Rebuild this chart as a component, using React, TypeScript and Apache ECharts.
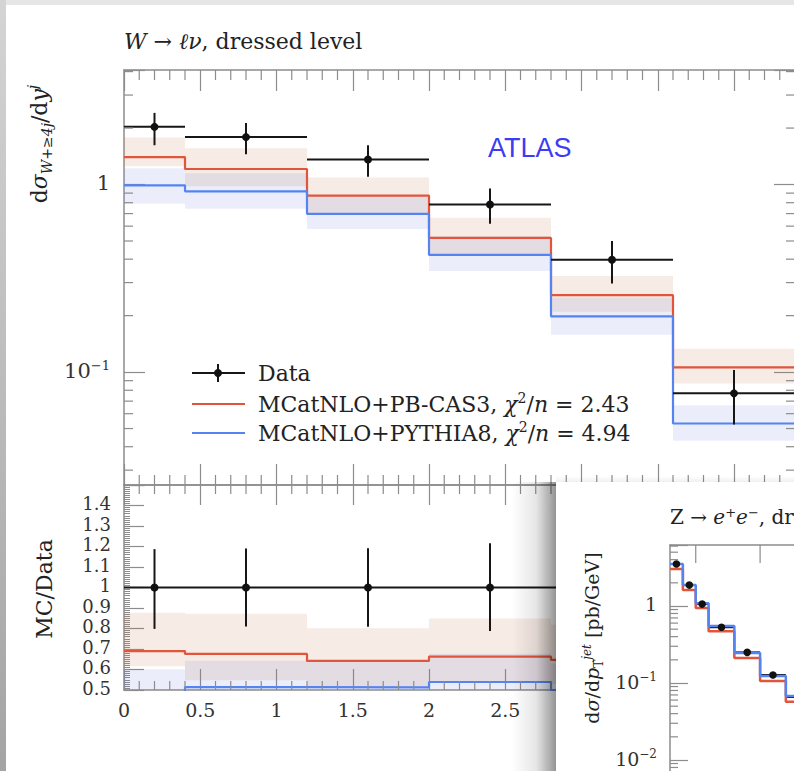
import React, { useEffect, useRef } from 'react';
import * as echarts from 'echarts';

// ---------------- data (main panel: W -> l nu, d sigma / d y^j) ----------------
const BIN_EDGES = [0, 0.4, 1.2, 2.0, 2.8, 3.6, 4.4];
const DATA_VAL = [2.03, 1.79, 1.36, 0.783, 0.397, 0.077];
const DATA_LO = [1.62, 1.45, 1.10, 0.617, 0.297, 0.0525];
const DATA_HI = [2.41, 2.13, 1.62, 0.952, 0.50, 0.1025];
const PB_VAL = [1.40, 1.21, 0.873, 0.519, 0.257, 0.106];
const PB_LO = [1.25, 0.98, 0.70, 0.42, 0.21, 0.087];
const PB_HI = [1.78, 1.56, 1.09, 0.665, 0.325, 0.133];
const PY_VAL = [0.99, 0.92, 0.698, 0.422, 0.198, 0.0532];
const PY_LO = [0.79, 0.743, 0.58, 0.346, 0.158, 0.043];
const PY_HI = [1.22, 1.15, 0.87, 0.53, 0.25, 0.0665];

// ---------------- data (overlay panel: Z -> ee, d sigma / d pT) ----------------
const Z_EDGES = [30, 40, 50, 60, 80, 100, 120, 150];
const Z_DATA = [3.51, 1.87, 1.06, 0.53, 0.25, 0.127, 0.066];
const Z_PY = [3.51, 1.87, 1.09, 0.55, 0.245, 0.123, 0.068];
const Z_PB = [3.02, 1.61, 0.94, 0.47, 0.211, 0.106, 0.057];

// ---------------- axes / ticks ----------------
const X_MIN = 0, X_MAX = 4.4;
const Y_MIN = 0.025, Y_MAX = 4.08;
const R_MIN = 0.5, R_MAX = 1.5;
const ZX_MIN = 30, ZX_MAX = 340;
const ZY_MIN = 0.001, ZY_MAX = 6.2;
const X_MINOR_TICKS: number[] = [];
for (let k = 1; k < 44; k++) if (k % 5 !== 0) X_MINOR_TICKS.push(+(k / 10).toFixed(1));
const LOG_MINOR_MAIN = [0.03, 0.04, 0.05, 0.06, 0.07, 0.08, 0.09, 0.2, 0.3, 0.4, 0.5, 0.6, 0.7, 0.8, 0.9, 2, 3, 4];
const Z_X_TICKS = [50, 100, 150, 200, 250, 300];
const Z_LOG_MINOR = [0.002, 0.003, 0.004, 0.005, 0.006, 0.007, 0.008, 0.009, 0.02, 0.03, 0.04, 0.05, 0.06, 0.07, 0.08, 0.09, 0.2, 0.3, 0.4, 0.5, 0.6, 0.7, 0.8, 0.9, 2, 3, 4, 5, 6];

// ratio table built from the arrays above
const R_DATA_VAL = DATA_VAL.map(() => 1);
const R_DATA_LO = DATA_LO.map((v, i) => v / DATA_VAL[i]);
const R_DATA_HI = DATA_HI.map((v, i) => v / DATA_VAL[i]);
const R_PB_VAL = PB_VAL.map((v, i) => v / DATA_VAL[i]);
const R_PB_LO = PB_LO.map((v, i) => v / DATA_VAL[i]);
const R_PB_HI = PB_HI.map((v, i) => v / DATA_VAL[i]);
const R_PY_VAL = PY_VAL.map((v, i) => v / DATA_VAL[i]);
const R_PY_LO = PY_LO.map((v, i) => v / DATA_VAL[i]);
const R_PY_HI = PY_HI.map((v, i) => v / DATA_VAL[i]);

// ---------------- styles ----------------
const FRAME = '#8c8c8c';
const RED = '#e0553c';
const BLUE = '#5584f0';
const RED_BAND = 'rgba(200,110,70,0.14)';
const BLUE_BAND = 'rgba(100,120,220,0.13)';
const INK = '#222222';
const SERIF = 'DejaVu Serif';

function richSet(size: number, colorKey: 'fill' | 'color' = 'fill', color = INK) {
  const small = Math.round(size * 0.64);
  const base = (extra: any) => ({ fontFamily: SERIF, [colorKey]: color, verticalAlign: 'bottom', ...extra });
  return {
    r: base({ fontSize: size, padding: [0, 0, Math.round(size * 0.2), 0] }),
    i: base({ fontSize: size, fontStyle: 'italic', padding: [0, 0, Math.round(size * 0.2), 0] }),
    sup: base({ fontSize: small, padding: [0, 0, Math.round(size * 0.62), 0] }),
    supi: base({ fontSize: small, fontStyle: 'italic', padding: [0, 0, Math.round(size * 0.62), 0] }),
    sub: base({ fontSize: small, fontStyle: 'italic', padding: [0, 0, 0, 0] }),
    subr: base({ fontSize: small, padding: [0, 0, 0, 0] }),
  };
}

function logLabel(minShown: number) {
  return (v: number) => {
    if (v < minShown) return '';
    const l = Math.log10(v);
    const r = Math.round(l);
    if (Math.abs(l - r) > 1e-6) return '';
    if (r === 0) return '{r|1}';
    return `{r|10}{sup|−${-r}}`;
  };
}

// ---------------- series builders ----------------
function bandSeries(xi: number, yi: number, edges: number[], lo: number[], hi: number[], color: string, z: number) {
  return {
    type: 'custom', xAxisIndex: xi, yAxisIndex: yi, z, silent: true,
    encode: { x: [0, 1], y: [2, 3] },
    data: lo.map((l, i) => [edges[i], edges[i + 1], l, hi[i]]),
    renderItem: (params: any, api: any) => {
      const a = api.coord([api.value(0), api.value(3)]);
      const b = api.coord([api.value(1), api.value(2)]);
      const cs = params.coordSys;
      const top = Math.max(Math.min(a[1], b[1]), cs.y);
      const bot = Math.min(Math.max(a[1], b[1]), cs.y + cs.height);
      if (!(bot > top)) return null;
      return { type: 'rect', shape: { x: a[0], y: top, width: b[0] - a[0], height: bot - top }, style: { fill: color } };
    },
  };
}

function stepSeries(xi: number, yi: number, edges: number[], vals: number[], color: string, width: number, z: number) {
  return {
    type: 'line', xAxisIndex: xi, yAxisIndex: yi, z, silent: true, step: 'end', symbol: 'none', clip: true,
    lineStyle: { color, width }, animation: false,
    data: edges.map((e, i) => [e, vals[Math.min(i, vals.length - 1)]]),
  };
}

function pointSeries(xi: number, yi: number, edges: number[], vals: number[], lo: number[], hi: number[], z: number,
  opt: { hLine: boolean; vLine: boolean; dot: boolean; r: number; width: number }) {
  return {
    type: 'custom', xAxisIndex: xi, yAxisIndex: yi, z, silent: true,
    encode: { x: [0, 1], y: [2, 3, 4] },
    data: vals.map((v, i) => [edges[i], edges[i + 1], v, lo[i], hi[i]]),
    renderItem: (params: any, api: any) => {
      const x0 = api.value(0), x1 = api.value(1), v = api.value(2), l = api.value(3), h = api.value(4);
      const xc = (x0 + x1) / 2;
      const a = api.coord([x0, v]), b = api.coord([x1, v]), c = api.coord([xc, v]);
      const t = api.coord([xc, h]), d = api.coord([xc, l]);
      const children: any[] = [];
      const st = { stroke: '#161616', lineWidth: opt.width };
      if (opt.hLine) children.push({ type: 'line', shape: { x1: a[0], y1: a[1], x2: b[0], y2: b[1] }, style: st });
      if (opt.vLine) children.push({ type: 'line', shape: { x1: t[0], y1: t[1], x2: d[0], y2: d[1] }, style: st });
      if (opt.dot) children.push({ type: 'circle', shape: { cx: c[0], cy: c[1], r: opt.r }, style: { fill: '#111' } });
      return { type: 'group', children };
    },
  };
}

function xTickSeries(xi: number, yi: number, ticks: number[], yRef: number, len: number, top: boolean, bottom: boolean, z: number) {
  return {
    type: 'custom', xAxisIndex: xi, yAxisIndex: yi, z, silent: true,
    data: ticks.map((t) => [t, yRef]),
    renderItem: (params: any, api: any) => {
      const p = api.coord([api.value(0), api.value(1)]);
      const cs = params.coordSys;
      const st = { stroke: FRAME, lineWidth: 1.2 };
      const ch: any[] = [];
      if (top) ch.push({ type: 'line', shape: { x1: p[0], y1: cs.y, x2: p[0], y2: cs.y + len }, style: st });
      if (bottom) ch.push({ type: 'line', shape: { x1: p[0], y1: cs.y + cs.height, x2: p[0], y2: cs.y + cs.height - len }, style: st });
      return { type: 'group', children: ch };
    },
  };
}

function yTickSeries(xi: number, yi: number, ticks: number[], xRef: number, len: number, left: boolean, right: boolean, z: number) {
  return {
    type: 'custom', xAxisIndex: xi, yAxisIndex: yi, z, silent: true,
    data: ticks.map((t) => [xRef, t]),
    renderItem: (params: any, api: any) => {
      const p = api.coord([api.value(0), api.value(1)]);
      const cs = params.coordSys;
      const st = { stroke: FRAME, lineWidth: 1.2 };
      const ch: any[] = [];
      if (left) ch.push({ type: 'line', shape: { x1: cs.x, y1: p[1], x2: cs.x + len, y2: p[1] }, style: st });
      if (right) ch.push({ type: 'line', shape: { x1: cs.x + cs.width, y1: p[1], x2: cs.x + cs.width - len, y2: p[1] }, style: st });
      return { type: 'group', children: ch };
    },
  };
}

const frameLine = { show: true, onZero: false, lineStyle: { color: FRAME, width: 1.5 } };
const tickStyle = { color: FRAME, width: 1.2 };

function buildOption() {
  const R22 = richSet(22);
  const R20 = richSet(20);
  const axisRich = (size: number) => richSet(size, 'color', '#333');

  const graphicEls: any[] = [
    // page edge shadows
    { type: 'rect', z: 1, silent: true, shape: { x: 0, y: 0, width: 794, height: 5 }, style: { fill: '#e6e6e6' } },
    {
      type: 'rect', z: 1, silent: true, shape: { x: 0, y: 0, width: 6, height: 771 },
      style: { fill: new echarts.graphic.LinearGradient(0, 0, 0, 1, [{ offset: 0, color: '#d4d4d4' }, { offset: 1, color: '#a4a4a4' }]) },
    },
    // title
    { type: 'text', z: 5, x: 124, y: 43, style: { text: '{i|W}{r| → }{i|ℓν}{r|, dressed level}', rich: R22, align: 'left', verticalAlign: 'middle' } },
    // y labels
    {
      type: 'text', z: 5, x: 40, y: 144, rotation: Math.PI / 2,
      style: { text: '{r|d}{i|σ}{sub|W+≥4j}{r|/d}{i|y}{supi|j}', rich: R22, align: 'center', verticalAlign: 'middle' },
    },
    {
      type: 'text', z: 5, x: 46, y: 589, rotation: Math.PI / 2,
      style: { text: '{r|MC/Data}', rich: R22, align: 'center', verticalAlign: 'middle' },
    },
    // ATLAS
    { type: 'text', z: 5, x: 488, y: 148, style: { text: 'ATLAS', fill: '#3c3cf4', fontFamily: 'Liberation Sans', fontSize: 27, verticalAlign: 'middle' } },
    // legend
    { type: 'line', z: 5, shape: { x1: 192, y1: 373, x2: 245, y2: 373 }, style: { stroke: '#161616', lineWidth: 2 } },
    { type: 'line', z: 5, shape: { x1: 218, y1: 364, x2: 218, y2: 382 }, style: { stroke: '#161616', lineWidth: 2 } },
    { type: 'circle', z: 5, shape: { cx: 218, cy: 373, r: 4 }, style: { fill: '#111' } },
    { type: 'line', z: 5, shape: { x1: 192, y1: 404, x2: 245, y2: 404 }, style: { stroke: RED, lineWidth: 2.2 } },
    { type: 'line', z: 5, shape: { x1: 192, y1: 433, x2: 245, y2: 433 }, style: { stroke: BLUE, lineWidth: 2.2 } },
    { type: 'text', z: 5, x: 258, y: 375, style: { text: '{r|Data}', rich: R22, verticalAlign: 'middle' } },
    { type: 'text', z: 5, x: 258, y: 405, style: { text: '{r|MCatNLO+PB-CAS3, }{i|χ}{sup|2}{r|/}{i|n}{r| = 2.43}', rich: R22, verticalAlign: 'middle' } },
    { type: 'text', z: 5, x: 258, y: 434, style: { text: '{r|MCatNLO+PYTHIA8, }{i|χ}{sup|2}{r|/}{i|n}{r| = 4.94}', rich: R22, verticalAlign: 'middle' } },
    // overlay card (second figure)
    {
      type: 'rect', z: 50, silent: true, shape: { x: 512, y: 482, width: 44, height: 289 },
      style: {
        fill: new echarts.graphic.LinearGradient(0, 0, 1, 0, [
          { offset: 0, color: 'rgba(0,0,0,0)' }, { offset: 0.55, color: 'rgba(0,0,0,0.1)' }, { offset: 1, color: 'rgba(0,0,0,0.42)' },
        ]),
      },
    },
    {
      type: 'rect', z: 50, silent: true, shape: { x: 556, y: 476, width: 238, height: 6 },
      style: { fill: new echarts.graphic.LinearGradient(0, 0, 0, 1, [{ offset: 0, color: 'rgba(0,0,0,0)' }, { offset: 1, color: 'rgba(0,0,0,0.06)' }]) },
    },
    { type: 'rect', z: 51, silent: true, shape: { x: 556, y: 482, width: 238, height: 289 }, style: { fill: '#ffffff' } },
    { type: 'text', z: 60, x: 670, y: 518, style: { text: '{r|Z → }{i|e}{sup|+}{i|e}{sup|−}{r|, dressed level}', rich: R20, verticalAlign: 'middle' } },
    {
      type: 'text', z: 60, x: 593, y: 638, rotation: Math.PI / 2,
      style: { text: '{r|d}{i|σ}{r|/d}{i|p}{subr|T}{supi|jet}{r| [pb/GeV]}', rich: richSet(19), align: 'center', verticalAlign: 'middle' },
    },
  ];

  const series: any[] = [
    // main panel
    bandSeries(0, 0, BIN_EDGES, PB_LO, PB_HI, RED_BAND, 2),
    bandSeries(0, 0, BIN_EDGES, PY_LO, PY_HI, BLUE_BAND, 2),
    stepSeries(0, 0, BIN_EDGES, PB_VAL, RED, 2.2, 3),
    stepSeries(0, 0, BIN_EDGES, PY_VAL, BLUE, 2.2, 3),
    pointSeries(0, 0, BIN_EDGES, DATA_VAL, DATA_LO, DATA_HI, 4, { hLine: true, vLine: true, dot: true, r: 4, width: 2 }),
    xTickSeries(0, 0, X_MINOR_TICKS, 1, 10, true, true, 4),
    yTickSeries(0, 0, LOG_MINOR_MAIN, 1, 9, true, true, 4),
    // ratio panel
    bandSeries(2, 2, BIN_EDGES, R_PB_LO, R_PB_HI, RED_BAND, 2),
    bandSeries(2, 2, BIN_EDGES, R_PY_LO, R_PY_HI, BLUE_BAND, 2),
    stepSeries(2, 2, BIN_EDGES, R_PB_VAL, RED, 2.2, 3),
    stepSeries(2, 2, BIN_EDGES, R_PY_VAL, BLUE, 2.2, 3),
    pointSeries(2, 2, BIN_EDGES, R_DATA_VAL, R_DATA_LO, R_DATA_HI, 4, { hLine: true, vLine: true, dot: true, r: 4, width: 2 }),
    xTickSeries(2, 2, X_MINOR_TICKS, 1, 9, true, true, 4),
    // overlay Z panel
    pointSeries(4, 3, Z_EDGES, Z_DATA, Z_DATA, Z_DATA, 61, { hLine: true, vLine: false, dot: false, r: 3.5, width: 2 }),
    stepSeries(4, 3, Z_EDGES, Z_PB, RED, 2.5, 62),
    stepSeries(4, 3, Z_EDGES, Z_PY, BLUE, 2.5, 63),
    pointSeries(4, 3, Z_EDGES, Z_DATA, Z_DATA, Z_DATA, 64, { hLine: false, vLine: false, dot: true, r: 3.8, width: 2 }),
    xTickSeries(4, 3, Z_X_TICKS, 1, 18, true, false, 60),
    yTickSeries(4, 3, Z_LOG_MINOR, 100, 8, true, false, 60),
  ];

  return {
    animation: false,
    backgroundColor: '#ffffff',
    textStyle: { fontFamily: SERIF },
    grid: [
      { left: 124, top: 70, width: 671, height: 415, outerBoundsMode: 'none', containLabel: false },
      { left: 124, top: 485, width: 671, height: 205, outerBoundsMode: 'none', containLabel: false },
      { left: 670, top: 545, width: 399, height: 292, outerBoundsMode: 'none', containLabel: false },
    ],
    xAxis: [
      { gridIndex: 0, type: 'value', position: 'bottom', min: X_MIN, max: X_MAX, interval: 0.5, axisLine: frameLine,
        axisTick: { inside: true, length: 21, lineStyle: tickStyle }, axisLabel: { show: false }, splitLine: { show: false } },
      { gridIndex: 0, type: 'value', position: 'top', min: X_MIN, max: X_MAX, interval: 0.5, axisLine: frameLine,
        axisTick: { inside: true, length: 21, lineStyle: tickStyle }, axisLabel: { show: false }, splitLine: { show: false } },
      { gridIndex: 1, type: 'value', position: 'bottom', min: X_MIN, max: X_MAX, interval: 0.5, axisLine: frameLine,
        axisTick: { inside: true, length: 21, lineStyle: tickStyle }, splitLine: { show: false },
        axisLabel: { margin: 10, rich: axisRich(19), formatter: (v: number) => (v > 2.75 ? '' : `{r|${+v.toFixed(1)}}`) } },
      { gridIndex: 1, type: 'value', position: 'top', min: X_MIN, max: X_MAX, interval: 0.5, axisLine: frameLine,
        axisTick: { inside: true, length: 20, lineStyle: tickStyle }, axisLabel: { show: false }, splitLine: { show: false } },
      { gridIndex: 2, type: 'value', position: 'top', min: ZX_MIN, max: ZX_MAX, z: 60, axisLine: frameLine,
        axisTick: { show: false }, axisLabel: { show: false }, splitLine: { show: false } },
    ],
    yAxis: [
      { gridIndex: 0, type: 'log', logBase: 10, position: 'left', min: Y_MIN, max: Y_MAX, axisLine: frameLine,
        axisTick: { inside: true, length: 21, lineStyle: tickStyle }, splitLine: { show: false },
        axisLabel: { margin: 14, rich: axisRich(21), formatter: logLabel(0.05) } },
      { gridIndex: 0, type: 'log', logBase: 10, position: 'right', min: Y_MIN, max: Y_MAX, axisLine: frameLine,
        axisTick: { inside: true, length: 21, lineStyle: tickStyle }, splitLine: { show: false }, axisLabel: { show: false } },
      { gridIndex: 1, type: 'value', position: 'left', min: R_MIN, max: R_MAX, interval: 0.1, axisLine: frameLine,
        axisTick: { inside: true, length: 20, lineStyle: tickStyle },
        minorTick: { show: true, splitNumber: 10, length: 6, lineStyle: { color: FRAME, width: 1 } },
        splitLine: { show: false }, minorSplitLine: { show: false },
        axisLabel: { margin: 13, rich: axisRich(18), formatter: (v: number) => (v > 1.45 ? '' : `{r|${+v.toFixed(1)}}`) } },
      { gridIndex: 2, type: 'log', logBase: 10, position: 'left', min: ZY_MIN, max: ZY_MAX, z: 60, axisLine: frameLine,
        axisTick: { inside: true, length: 18, lineStyle: tickStyle }, splitLine: { show: false },
        axisLabel: { margin: 13, rich: axisRich(19), formatter: logLabel(0.005) } },
    ],
    graphic: { elements: graphicEls },
    series,
  };
}

export default function App() {
  const ref = useRef<HTMLDivElement>(null);
  useEffect(() => {
    if (!ref.current) return;
    const chart = echarts.init(ref.current, undefined, { renderer: 'svg' });
    chart.setOption(buildOption() as any);
    return () => chart.dispose();
  }, []);
  return <div ref={ref} style={{ position: 'fixed', left: 0, top: 0, width: 794, height: 771 }} />;
}
